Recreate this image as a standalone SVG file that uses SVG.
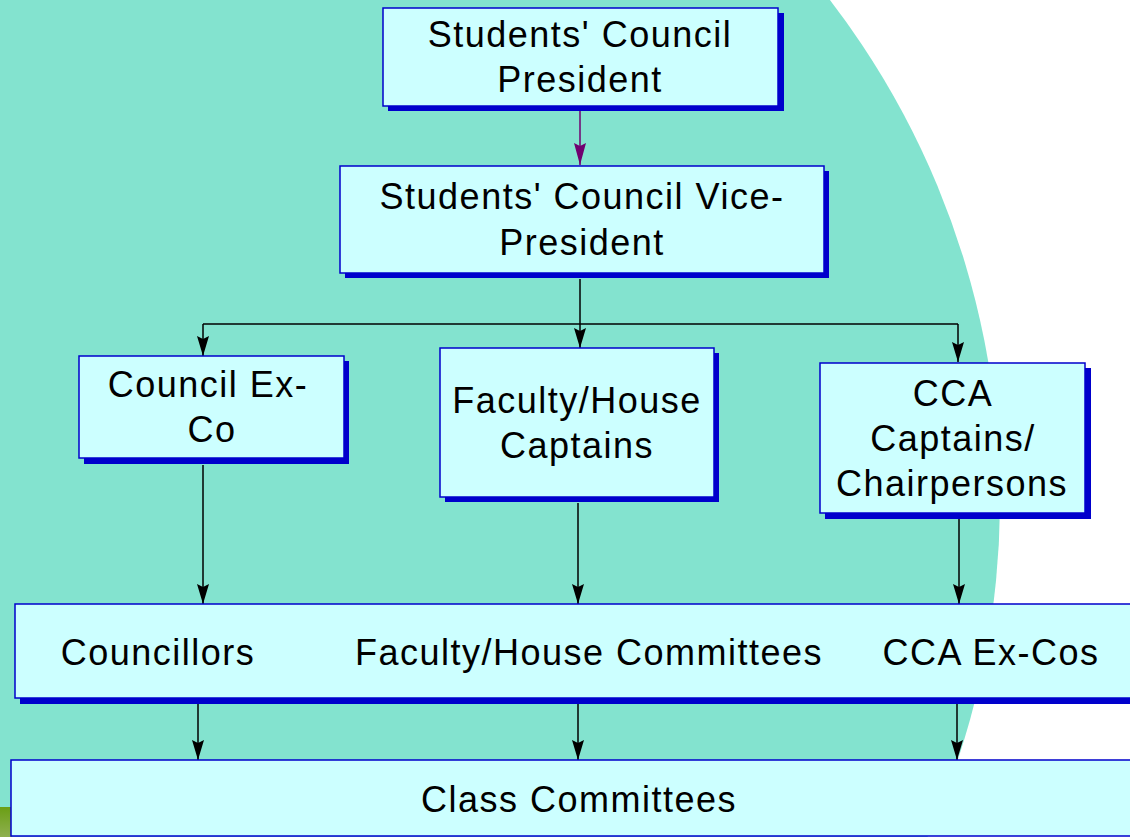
<svg xmlns="http://www.w3.org/2000/svg" width="1130" height="837" viewBox="0 0 1130 837">
<style>
.box{fill:#CCFFFF;stroke:#0000CC;stroke-width:1.5}
.sh{fill:#0000CC}
.t{font-family:"Liberation Sans",Arial,sans-serif;font-size:36px;letter-spacing:1.5px;fill:#000;text-anchor:middle}
.c{stroke:#000;stroke-width:1.5;fill:none}
</style>
<defs>
<marker id="ab" markerUnits="userSpaceOnUse" markerWidth="22" markerHeight="12" refX="20" refY="6" orient="auto">
<path d="M0,0 L20,6 L0,12 L3,6 z" fill="#000"/>
</marker>
<marker id="ap" markerUnits="userSpaceOnUse" markerWidth="24" markerHeight="12" refX="22" refY="6" orient="auto">
<path d="M0,0 L22,6 L0,12 L3,6 z" fill="#700070"/>
</marker>
<linearGradient id="g" x1="0" y1="0" x2="0" y2="1">
<stop offset="0" stop-color="#6A9E14"/>
<stop offset="1" stop-color="#8FB050"/>
</linearGradient>
</defs>
<rect width="1130" height="837" fill="#FFFFFF"/>
<circle cx="180" cy="500" r="820" fill="#83E3CF"/>
<rect x="0" y="807" width="12" height="30" fill="url(#g)"/>
<g id="connectors">
<line x1="580" y1="111" x2="580" y2="165" stroke="#700070" stroke-width="1.5" marker-end="url(#ap)"/>
<line class="c" x1="580" y1="279" x2="580" y2="324"/>
<line class="c" x1="203" y1="324" x2="958" y2="324"/>
<line class="c" x1="203" y1="324" x2="203" y2="356" marker-end="url(#ab)"/>
<line class="c" x1="580" y1="324" x2="580" y2="348" marker-end="url(#ab)"/>
<line class="c" x1="958" y1="324" x2="958" y2="362" marker-end="url(#ab)"/>
<line class="c" x1="203" y1="465" x2="203" y2="604" marker-end="url(#ab)"/>
<line class="c" x1="578" y1="503" x2="578" y2="604" marker-end="url(#ab)"/>
<line class="c" x1="959" y1="519" x2="959" y2="604" marker-end="url(#ab)"/>
<line class="c" x1="198" y1="704" x2="198" y2="760" marker-end="url(#ab)"/>
<line class="c" x1="578" y1="704" x2="578" y2="760" marker-end="url(#ab)"/>
<line class="c" x1="957" y1="704" x2="957" y2="760" marker-end="url(#ab)"/>
</g>
<g id="president">
<rect class="sh" x="388" y="13" width="396" height="98"/>
<rect class="box" x="383" y="8" width="395" height="98"/>
<text class="t" x="580" y="47">Students' Council</text>
<text class="t" x="580" y="92">President</text>
</g>
<g id="vice-president">
<rect class="sh" x="345" y="171" width="484" height="107"/>
<rect class="box" x="340" y="166" width="484" height="107"/>
<text class="t" x="582" y="209">Students' Council Vice-</text>
<text class="t" x="582" y="255">President</text>
</g>
<g id="council-exco">
<rect class="sh" x="84" y="361" width="265" height="103"/>
<rect class="box" x="79" y="356" width="265" height="102"/>
<text class="t" x="208" y="397">Council Ex-</text>
<text class="t" x="212" y="442">Co</text>
</g>
<g id="faculty-captains">
<rect class="sh" x="445" y="353" width="274" height="149"/>
<rect class="box" x="440" y="348" width="274" height="149"/>
<text class="t" x="577" y="413">Faculty/House</text>
<text class="t" x="577" y="458">Captains</text>
</g>
<g id="cca-captains">
<rect class="sh" x="825" y="368" width="266" height="151"/>
<rect class="box" x="820" y="363" width="265" height="150"/>
<text class="t" x="953" y="406">CCA</text>
<text class="t" x="953" y="451">Captains/</text>
<text class="t" x="952" y="496">Chairpersons</text>
</g>
<g id="committees">
<rect class="sh" x="20" y="609" width="1130" height="95"/>
<rect class="box" x="15" y="604" width="1130" height="94"/>
<text class="t" x="158" y="665">Councillors</text>
<text class="t" x="589" y="665">Faculty/House Committees</text>
<text class="t" x="991" y="665">CCA Ex-Cos</text>
</g>
<g id="class-committees">
<rect class="box" x="11" y="760" width="1130" height="76"/>
<text class="t" x="579" y="812">Class Committees</text>
</g>
</svg>
